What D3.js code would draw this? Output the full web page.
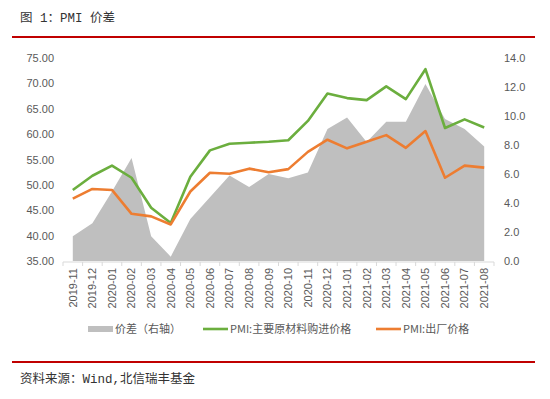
<!DOCTYPE html>
<html lang="zh">
<head>
<meta charset="UTF-8">
<title>PMI 价差</title>
<script src="https://d3js.org/d3.v7.min.js"></script>
<style>
  body { margin: 0; background: #fff; }
  svg { display: block; }
  .tick text { font-family: "Liberation Sans", Arial, sans-serif; font-size: 11px; fill: #595959; }
  .legend text { font-family: "Noto Sans CJK SC", sans-serif; font-size: 11px; fill: #595959; }
  .note { font-family: "Liberation Mono", "Noto Sans CJK SC", monospace; font-size: 12.5px; fill: #333; }
</style>
</head>
<body>
<svg id="chart" width="550" height="399"></svg>
<script>
// months on the x axis
const months = ["2019-11","2019-12","2020-01","2020-02","2020-03","2020-04","2020-05","2020-06",
  "2020-07","2020-08","2020-09","2020-10","2020-11","2020-12","2021-01","2021-02","2021-03",
  "2021-04","2021-05","2021-06","2021-07","2021-08"];

// PMI: 主要原材料购进价格
const purchase = [49.0,51.8,53.8,51.4,45.5,42.5,51.6,56.8,58.1,58.3,58.5,58.8,62.6,68.0,67.1,66.7,69.4,66.9,72.8,61.2,62.9,61.3];
// PMI: 出厂价格
const output = [47.3,49.2,49.0,44.3,43.8,42.2,48.7,52.4,52.2,53.2,52.5,53.1,56.5,58.9,57.2,58.5,59.8,57.3,60.6,51.4,53.8,53.4];
// 价差 (right axis)
const spread = [1.7,2.6,4.8,7.1,1.7,0.3,2.9,4.4,5.9,5.1,6.0,5.7,6.1,9.1,9.9,8.2,9.6,9.6,12.2,9.8,9.1,7.9];

const leftTicks = [35,40,45,50,55,60,65,70,75];
const rightTicks = [0,2,4,6,8,10,12,14];

const svg = d3.select("#chart");

// plot area
const x0 = 63, x1 = 494, yTop = 58, yBot = 261;

const x = d3.scaleBand().domain(months).range([x0, x1]);
const cx = d => x(d) + x.bandwidth() / 2;
const yL = d3.scaleLinear().domain([35, 75]).range([yBot, yTop]);
const yR = d3.scaleLinear().domain([0, 14]).range([yBot, yTop]);

// header and footer rules
svg.append("text").attr("class", "note").attr("x", 20).attr("y", 22).text("图 1：PMI 价差");
svg.append("line").attr("x1", 12).attr("x2", 535).attr("y1", 37).attr("y2", 37)
  .attr("stroke", "#C00000").attr("stroke-width", 2);
svg.append("line").attr("x1", 12).attr("x2", 535).attr("y1", 362).attr("y2", 362)
  .attr("stroke", "#C00000").attr("stroke-width", 2);
svg.append("text").attr("class", "note").attr("x", 20).attr("y", 383).text("资料来源：Wind,北信瑞丰基金");

// spread area
const area = d3.area()
  .x((d, i) => cx(months[i]))
  .y0(yR(0))
  .y1(d => yR(d));
svg.append("path").datum(spread).attr("d", area).attr("fill", "#BFBFBF");

// lines
const line = sc => d3.line().x((d, i) => cx(months[i])).y(d => sc(d));
svg.append("path").datum(purchase).attr("d", line(yL))
  .attr("fill", "none").attr("stroke", "#6BAE3E").attr("stroke-width", 2.6).attr("stroke-linejoin", "round");
svg.append("path").datum(output).attr("d", line(yL))
  .attr("fill", "none").attr("stroke", "#ED7D31").attr("stroke-width", 2.6).attr("stroke-linejoin", "round");

// left axis
const gl = svg.append("g").attr("transform", `translate(${x0 - 4},0)`)
  .call(d3.axisLeft(yL).tickValues(leftTicks).tickFormat(d3.format(".2f")).tickSize(0).tickPadding(5));
gl.select(".domain").remove();

// right axis
const gr = svg.append("g").attr("transform", `translate(${x1 + 4},0)`)
  .call(d3.axisRight(yR).tickValues(rightTicks).tickFormat(d3.format(".1f")).tickSize(0).tickPadding(6));
gr.select(".domain").remove();

// bottom axis with ticks between categories
const gb = svg.append("g").attr("transform", `translate(0,${yBot + 1})`);
gb.append("line").attr("x1", x0).attr("x2", x1).attr("stroke", "#D9D9D9");
gb.selectAll(".sep").data(months.concat(["end"])).join("line")
  .attr("class", "sep")
  .attr("x1", (d, i) => x0 + i * x.bandwidth())
  .attr("x2", (d, i) => x0 + i * x.bandwidth())
  .attr("y1", 0).attr("y2", 4).attr("stroke", "#D9D9D9");
gb.selectAll(".tick").data(months).join("g").attr("class", "tick")
  .attr("transform", d => `translate(${cx(d)},6) rotate(-90)`)
  .append("text")
  .attr("text-anchor", "end").attr("dy", "0.35em")
  .text(d => d);

// legend
const items = [
  { label: "价差（右轴）", color: "#BFBFBF", h: 6, x: 88 },
  { label: "PMI:主要原材料购进价格", color: "#6BAE3E", h: 2.6, x: 203 },
  { label: "PMI:出厂价格", color: "#ED7D31", h: 2.6, x: 376 }
];
const lg = svg.append("g").attr("class", "legend");
items.forEach(it => {
  lg.append("rect").attr("x", it.x).attr("y", 329 - it.h / 2).attr("width", 25).attr("height", it.h).attr("fill", it.color);
  lg.append("text").attr("x", it.x + 27).attr("y", 329).attr("dy", "0.36em").text(it.label);
});
</script>
</body>
</html>
